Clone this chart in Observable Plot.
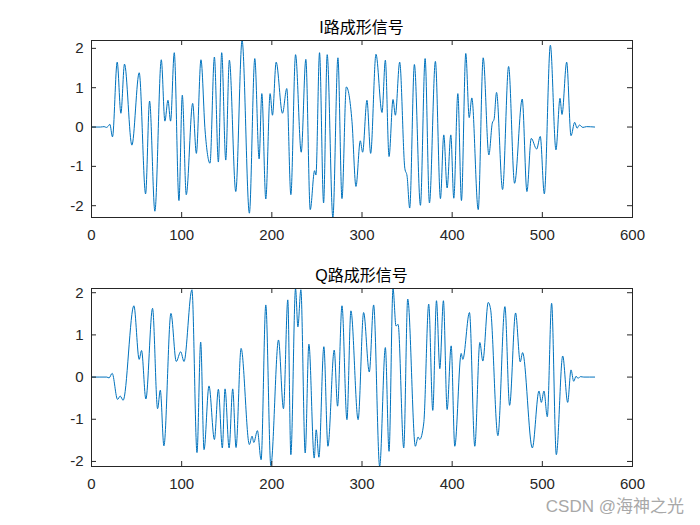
<!DOCTYPE html>
<html><head><meta charset="utf-8">
<script src="https://cdn.jsdelivr.net/npm/d3@7"></script>
<script src="https://cdn.jsdelivr.net/npm/@observablehq/plot@0.6"></script>
<style>
body{margin:0;background:#fff;}
#wrap{position:relative;width:700px;height:525px;overflow:hidden;font-family:"Liberation Sans","Noto Sans CJK SC",sans-serif;}
.ttl{position:absolute;left:91px;width:541px;text-align:center;font-size:16px;line-height:20px;color:#000;}
.pan{position:absolute;left:0;}
#wm{position:absolute;right:16px;top:496px;font-size:17px;line-height:22px;color:#a8a8a8;font-family:"Liberation Sans","Noto Sans CJK SC",sans-serif;}
</style></head>
<body><div id="wrap"></div>
<script>
const titles = ["I路成形信号", "Q路成形信号"];
const xTicks = [0, 100, 200, 300, 400, 500, 600];
const yTicks = [-2, -1, 0, 1, 2];
// I channel: [sample index, amplitude] read at extrema / shoulders
const iSamples = [[0,0],[10,0],[14,0.01],[16.5,-0.01],[18.5,0.02],[20.3,0.07],[23.3,-0.25],[28.5,1.65],[32.6,0.35],[36.6,1.6],[44.8,-0.46],[52.9,1.38],[60,-1.70],[64.4,0.66],[70.3,-2.14],[77.4,1.71],[81.4,0.15],[84.8,0.68],[87.7,0.15],[91.8,1.89],[97,-1.87],[100.7,0.81],[105.1,-1.72],[112.2,0.6],[116.3,-0.67],[121.4,1.71],[126,-0.1],[131.4,-0.92],[136.3,1.78],[140.7,-0.89],[144.4,1.89],[148.9,-0.84],[152.9,1.70],[160,-1.64],[167,2.20],[175.1,-2.19],[181.1,1.74],[185.9,-0.81],[188.9,0.85],[193.3,-1.83],[198.1,0.85],[200.7,0.30],[204.8,1.65],[211.8,0.35],[216.6,0.98],[221.1,-1.72],[226.3,1.84],[232.6,-0.64],[237.7,1.72],[242.6,-2.10],[247.4,-1.11],[248.9,-1.22],[252.9,1.89],[257.4,-1.93],[261.4,1.84],[267.7,-2.30],[273.3,1.76],[277.8,-1.82],[282.6,1.02],[288.9,0.14],[293.3,-1.51],[298.1,-0.35],[300.7,-0.64],[305.5,0.68],[309.6,-0.67],[315.5,1.85],[322.2,0.37],[325.9,1.70],[330,-0.75],[334.4,0.70],[337,0.30],[341.8,1.65],[347.5,-1.05],[350,-1.25],[352.9,-2.06],[358.1,1.59],[364.8,-1.99],[370,1.74],[374.8,-1.93],[381.4,1.67],[387,-1.82],[390.7,-0.20],[394.4,-1.55],[398.5,-0.20],[401.8,-1.81],[406.3,0.85],[410.3,-1.87],[415.1,1.87],[418.9,0.24],[421.8,0.74],[428.9,-2.10],[434.4,1.76],[440.7,-0.71],[444.5,0.10],[446.5,0.2],[449.2,0.88],[455.9,-1.59],[462.6,1.54],[469.2,-1.43],[477.7,0.71],[482.9,-1.64],[487.7,-0.29],[493.7,-0.56],[497.7,-0.24],[502.2,-1.70],[508.9,2.08],[515.1,-0.58],[519.6,0.73],[521.8,0.32],[527,1.65],[531.8,-0.22],[535.9,0.12],[538.5,-0.03],[541.1,0.05],[545,-0.01],[549,0.01],[558,0]];
// Q channel
const qSamples = [[0,0],[17,0],[19.5,-0.02],[22.9,0.09],[28.9,-0.53],[31.8,-0.45],[35.1,-0.55],[47,1.69],[52.9,0.42],[55.5,0.63],[60.3,-0.52],[67.7,1.63],[73.3,-0.75],[76.3,-0.31],[80.3,-1.63],[88.1,1.51],[94,0.37],[98.9,0.60],[102.6,0.37],[111.4,2.07],[117,-1.79],[121.1,0.83],[124.8,-1.72],[130.3,-0.21],[136.3,-1.48],[140.7,-0.29],[145.1,-1.68],[148.1,-0.28],[152.6,-1.68],[156.6,-0.28],[160.3,-1.67],[165.9,0.68],[175.1,-1.60],[178.1,-1.40],[180,-1.55],[184,-1.27],[188.1,-1.96],[193.3,1.71],[198.9,-2.10],[207.4,0.88],[212.9,-0.75],[217.7,1.83],[221.1,-1.84],[226.3,2.10],[228.9,1.19],[232.2,2.07],[237,-1.80],[241.1,0.78],[247,-1.92],[249.2,-1.25],[252.2,-1.90],[257.7,0.72],[262.2,-1.64],[269.2,0.64],[272.9,-0.69],[277.8,1.69],[283.3,-1.01],[287.7,1.57],[295.7,-1.01],[301.8,1.53],[308.1,0.12],[312.9,1.71],[319.6,-2.12],[325.9,0.70],[330,-1.76],[334.4,2.10],[337.7,1.21],[340,1.25],[346.3,-1.68],[350.7,1.85],[359.2,-1.64],[362.2,-1.42],[364,-1.48],[368.5,-1.09],[374,1.73],[378.5,-0.79],[382.6,1.81],[386.3,0.20],[390.3,1.81],[394.4,-0.77],[398.9,0.74],[402.9,-1.64],[410,0.56],[411.8,0.42],[419.2,1.53],[425.1,-1.64],[430.7,0.82],[434,0.38],[440,1.77],[442.6,1.61],[450.7,-1.39],[458.5,1.67],[463.7,-0.67],[470.3,1.52],[475.5,0.36],[478.1,0.58],[488.9,-1.68],[496.3,-0.33],[498.9,-0.60],[501.8,-0.33],[505.5,-0.94],[510.3,1.75],[515.5,-1.84],[522.6,0.50],[528.1,-0.60],[531.8,0.17],[534.8,-0.10],[537.4,0.02],[539.6,-0.03],[542.2,0.01],[546,0],[558,0]];

const wrap = document.getElementById("wrap");
const font = '"Liberation Sans","Noto Sans CJK SC",sans-serif';

function panel(samples, top, height, mt, mb, titleTop, title) {
  const data = samples.map(([x, y]) => ({x, y}));
  const W = 700 - 91 - 68, H = height - mt - mb;
  const chart = Plot.plot({
    width: 700, height, marginLeft: 91, marginRight: 68, marginTop: mt, marginBottom: mb,
    style: {fontFamily: font, fontSize: "15px", color: "#262626", background: "transparent", overflow: "visible"},
    x: {domain: [0, 600]},
    y: {domain: d3.extent(data, d => d.y)},
    marks: [
      Plot.line(data, {x: "x", y: "y", stroke: "#0072BD", strokeWidth: 1, curve: "monotone-x", clip: true}),
      Plot.ruleX(xTicks, {x: d => d, insetTop: H - 5, stroke: "#262626"}),
      Plot.ruleX(xTicks, {x: d => d, insetBottom: H - 5, stroke: "#262626"}),
      Plot.ruleY(yTicks, {y: d => d, insetRight: W - 5, stroke: "#262626"}),
      Plot.ruleY(yTicks, {y: d => d, insetLeft: W - 5, stroke: "#262626"}),
      Plot.axisX(xTicks, {tickSize: 0, tickPadding: 12, label: null, tickFormat: d => String(d)}),
      Plot.axisY(yTicks, {tickSize: 0, tickPadding: 8, label: null, tickFormat: d => String(d)}),
      Plot.frame({stroke: "#262626"})
    ]
  });
  chart.classList.add("pan");
  chart.style.top = top + "px";
  wrap.appendChild(chart);
  const t = document.createElement("div");
  t.className = "ttl";
  t.style.top = titleTop + "px";
  t.textContent = title;
  wrap.appendChild(t);
}

panel(iSamples, 0, 250, 40, 33, 18, titles[0]);
panel(qSamples, 250, 275, 38, 59, 266, titles[1]);

const wm = document.createElement("div");
wm.id = "wm";
wm.textContent = "CSDN @海神之光";
wrap.appendChild(wm);
</script>
</body></html>
